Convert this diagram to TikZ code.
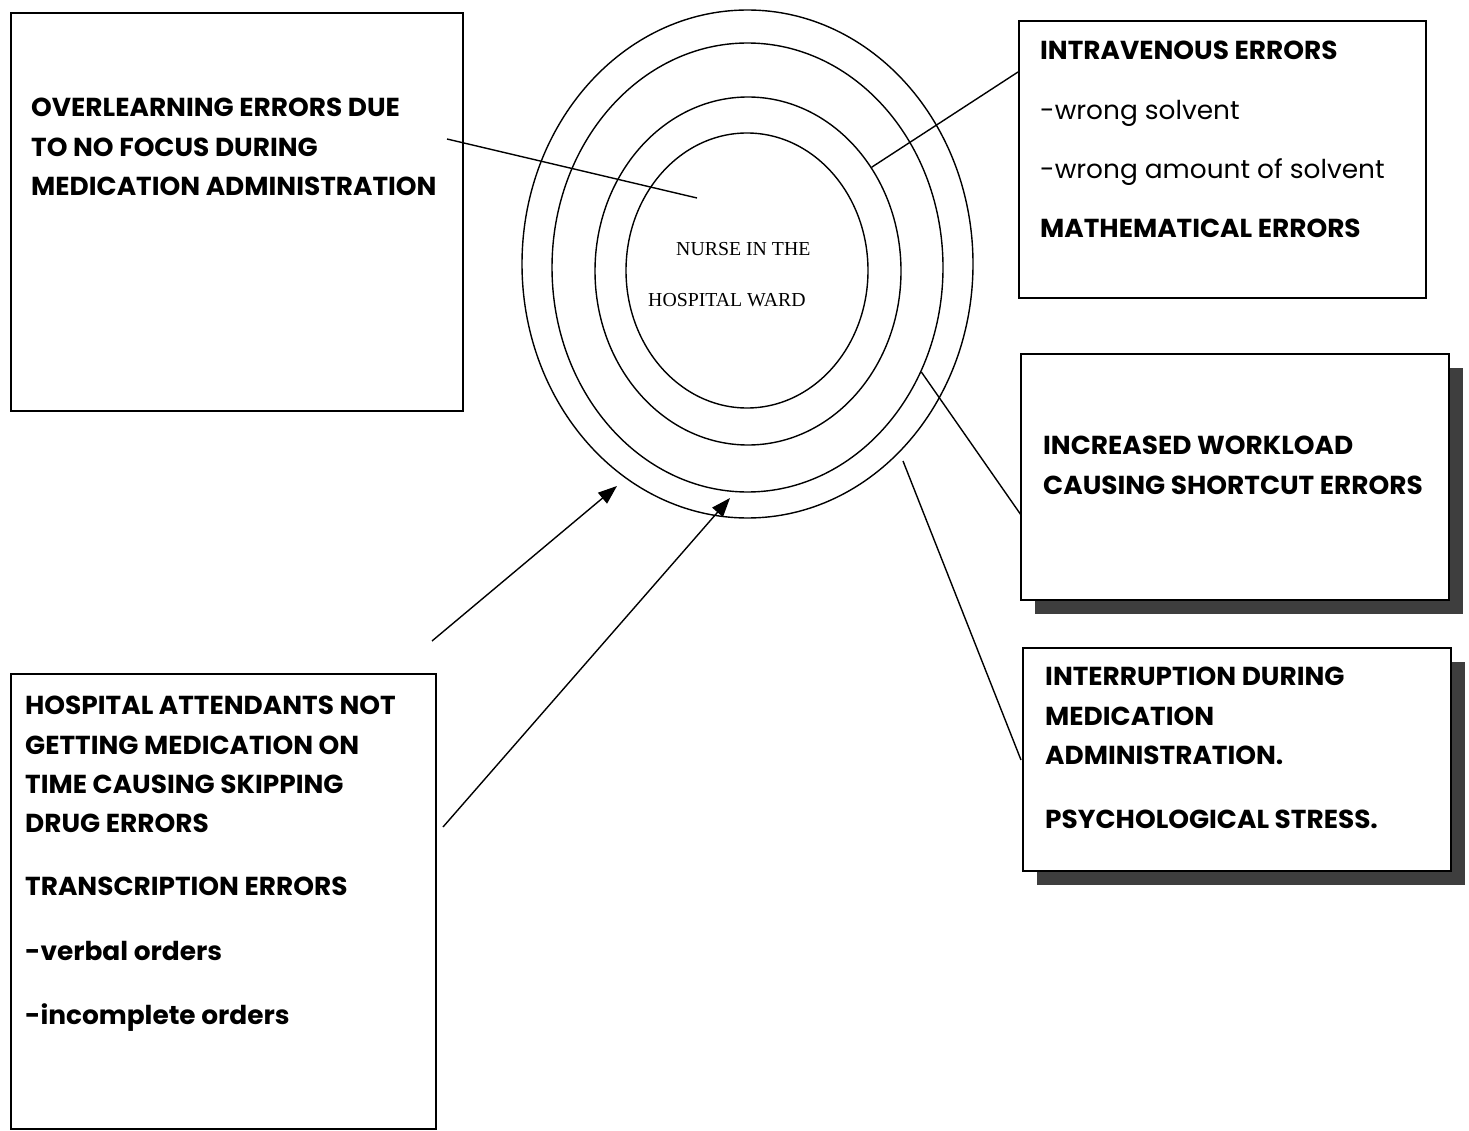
\documentclass[tikz,border=0pt]{standalone}
\usepackage{fontspec}
\usepackage{tikz}
\usetikzlibrary{shapes.geometric,arrows.meta,shadows}
\newfontfamily\boxfont[FakeStretch=1.015]{Poppins}
\newfontfamily\wardfont{Liberation Serif}
\newlength{\boxline}
\newlength{\ringline}
\setlength{\boxline}{1.7pt}
\setlength{\ringline}{1.4pt}
\definecolor{shadowcolor}{RGB}{62,62,62}
\newcommand{\boxsize}{\fontsize{26}{39.3}\selectfont}
\tikzstyle{errorbox} = [draw, line width=\boxline, fill=white, inner sep=0, anchor=north west]
\tikzstyle{shadowed} = [drop shadow={shadow xshift=14pt, shadow yshift=-14pt, fill=shadowcolor, opacity=1}]
\tikzstyle{boxtext} = [inner sep=0, anchor=north west, align=left, font=\boxfont\boxsize]
\tikzstyle{ring} = [draw, ellipse, line width=\ringline, inner sep=0]
\tikzstyle{link} = [draw, line width=\ringline]
\tikzstyle{push} = [link, -{Triangle[length=19pt,width=14pt]}]

\begin{document}
\begin{tikzpicture}[x=1pt, y=-1pt]
	\useasboundingbox (0,0) rectangle (1469,1131);
	
	% the rings round the nurse
	\node[ring, minimum width=451pt, minimum height=508pt] (ringD) at (747.5,264) {};
	\node[ring, minimum width=391pt, minimum height=449pt] (ringC) at (747.5,267.5) {};
	\node[ring, minimum width=306pt, minimum height=348pt] (ringB) at (748,271) {};
	\node[ring, minimum width=242pt, minimum height=275pt] (ringA) at (747,270.5) {};
	\node[inner sep=0, anchor=north west, align=left, font=\wardfont\fontsize{19.8}{51}\selectfont] (wardText) at (648,242.5) {\hspace*{28pt}NURSE IN THE\\HOSPITAL WARD};
	
	% the boxes
	\node[errorbox, minimum width=452pt, minimum height=398pt] (overBox) at (10,12) {};
	\node[errorbox, minimum width=407pt, minimum height=277pt] (ivBox) at (1018,20) {};
	\node[errorbox, shadowed, minimum width=428pt, minimum height=246pt] (loadBox) at (1020,353) {};
	\node[errorbox, shadowed, minimum width=428pt, minimum height=223pt] (stressBox) at (1022,647) {};
	\node[errorbox, minimum width=425pt, minimum height=455pt] (hospBox) at (10,673) {};
	
	\node[boxtext] (overText) at (31,98) {\bfseries OVERLEARNING ERRORS DUE\\\bfseries TO NO FOCUS DURING\\\bfseries MEDICATION ADMINISTRATION};
	\node[boxtext] (ivText) at (1040,41) {\textbf{INTRAVENOUS ERRORS}\\[20pt]-wrong solvent\\[20pt]-wrong amount of solvent\\[20pt]\textbf{MATHEMATICAL ERRORS}};
	\node[boxtext] (loadText) at (1043,436) {\bfseries INCREASED WORKLOAD\\\bfseries CAUSING SHORTCUT ERRORS};
	\node[boxtext] (stressText) at (1045,667) {\bfseries INTERRUPTION DURING\\\bfseries MEDICATION\\\bfseries ADMINISTRATION.\\[25pt]\bfseries PSYCHOLOGICAL STRESS.};
	\node[boxtext] (hospText) at (25,696) {\bfseries HOSPITAL ATTENDANTS NOT\\\bfseries GETTING MEDICATION ON\\\bfseries TIME CAUSING SKIPPING\\\bfseries DRUG ERRORS\\[24pt]\bfseries TRANSCRIPTION ERRORS\\[25pt]\bfseries -verbal orders\\[25pt]\bfseries -incomplete orders};
	
	% free ends of the connectors
	\coordinate (overEnd) at (447,139);
	\coordinate (coreEnd) at (697,198);
	\coordinate (ivEnd) at (1018,72);
	\coordinate (loadEnd) at (1021,515);
	\coordinate (stressStart) at (903,461);
	\coordinate (stressEnd) at (1021,760);
	\coordinate (hospTailA) at (432,641);
	\coordinate (hospTipA) at (617,486);
	\coordinate (hospTailB) at (443,827);
	\coordinate (hospTipB) at (730,498);
	
	\draw[link] (overEnd) -- (coreEnd);
	\draw[link] (ivEnd) -- (ringB.40);
	\draw[link] (ringC.-31) -- (loadEnd);
	\draw[link] (stressStart) -- (stressEnd);
	\draw[push] (hospTailA) -- (hospTipA);
	\draw[push] (hospTailB) -- (hospTipB);
	
\end{tikzpicture}
\end{document}
